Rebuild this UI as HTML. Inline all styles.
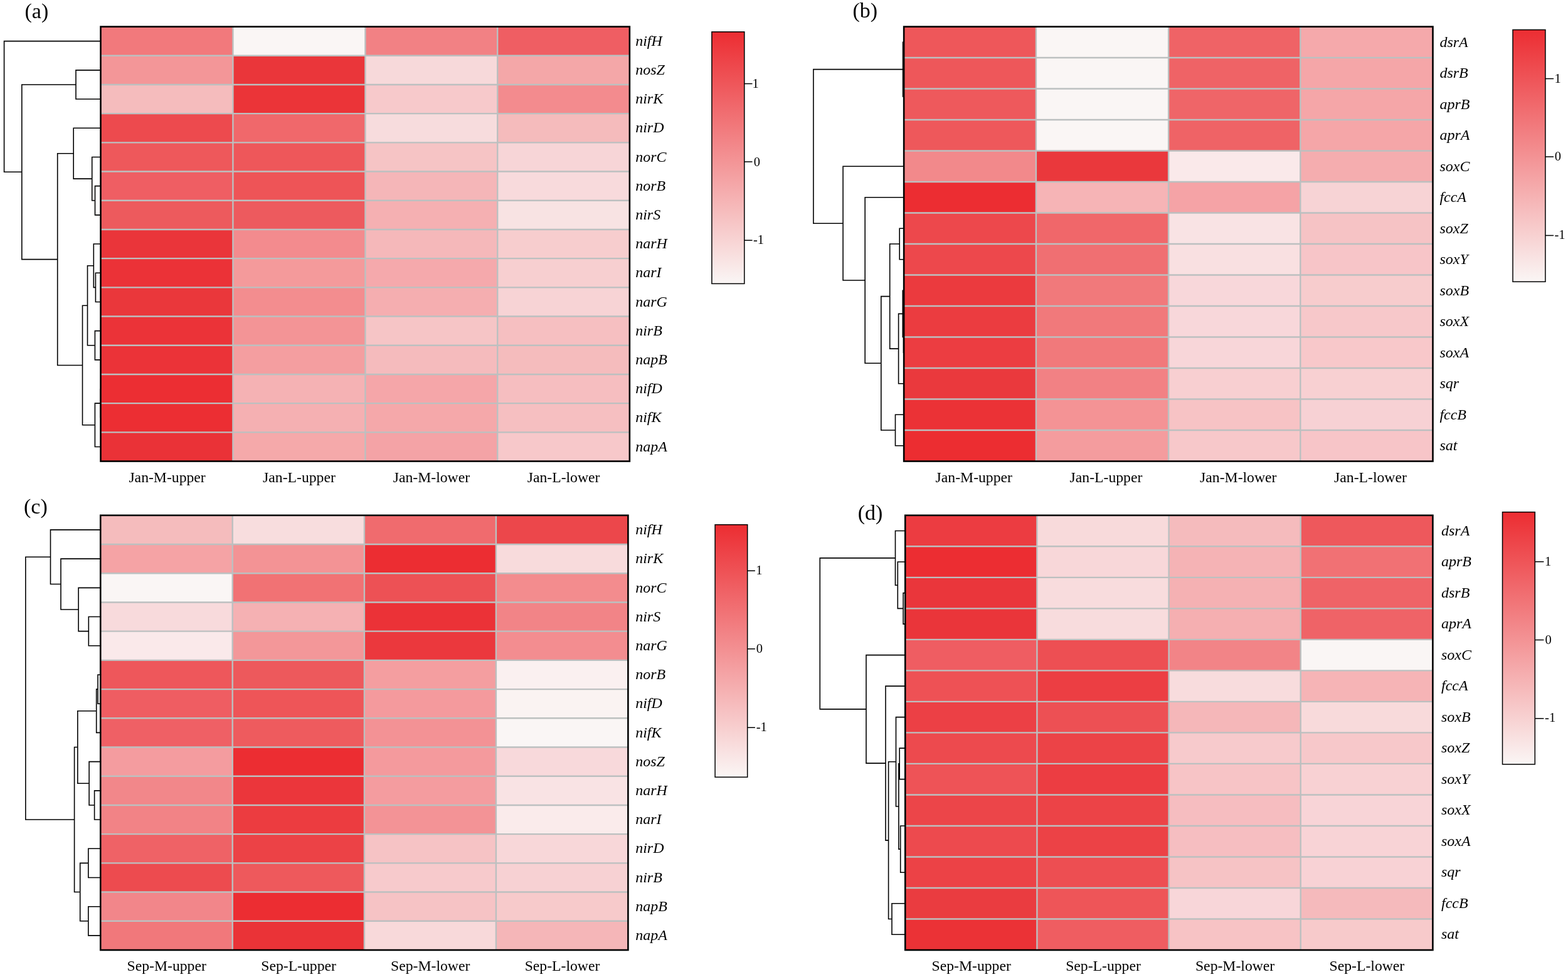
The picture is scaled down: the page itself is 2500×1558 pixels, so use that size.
<!DOCTYPE html>
<html lang="en">
<head>
<meta charset="utf-8">
<title>Heatmaps of nitrogen and sulfur cycling genes</title>
<style>
html,body{margin:0;padding:0;background:#fff;}
body{width:2500px;height:1558px;overflow:hidden;}
svg{display:block;}
text{font-family:"Liberation Serif","Times New Roman",serif;fill:#000;}
.rl text{font-size:24px;font-style:italic;}
.cl text{font-size:23.7px;text-anchor:middle;}
.tk text{font-size:20.5px;}
.tag{font-size:34px;}
</style>
</head>
<body>
<svg width="2500" height="1558" viewBox="0 0 2500 1558">
<defs>
<linearGradient id="cbg" x1="0" y1="0" x2="0" y2="1">
<stop offset="0" stop-color="rgb(236,45,50)"/>
<stop offset="1" stop-color="rgb(250,246,245)"/>
</linearGradient>
</defs>
<rect width="2500" height="1558" fill="#fff"/>
<g id="panel-a">
<g shape-rendering="crispEdges">
<rect x="160.5" y="42.55" width="210.9" height="46.2" fill="#F2797C"/>
<rect x="371.4" y="42.55" width="211" height="46.2" fill="#FAF6F5"/>
<rect x="582.4" y="42.55" width="210.8" height="46.2" fill="#F28184"/>
<rect x="793.2" y="42.55" width="210.65" height="46.2" fill="#EF5E63"/>
<rect x="160.5" y="88.75" width="210.9" height="46.2" fill="#F39698"/>
<rect x="371.4" y="88.75" width="211" height="46.2" fill="#EA363A"/>
<rect x="582.4" y="88.75" width="210.8" height="46.2" fill="#F7D9DA"/>
<rect x="793.2" y="88.75" width="210.65" height="46.2" fill="#F4A7A8"/>
<rect x="160.5" y="134.95" width="210.9" height="46.2" fill="#F5BCBD"/>
<rect x="371.4" y="134.95" width="211" height="46.2" fill="#EB3438"/>
<rect x="582.4" y="134.95" width="210.8" height="46.2" fill="#F7C9CB"/>
<rect x="793.2" y="134.95" width="210.65" height="46.2" fill="#F38B8E"/>
<rect x="160.5" y="181.15" width="210.9" height="46.2" fill="#ED4A4E"/>
<rect x="371.4" y="181.15" width="211" height="46.2" fill="#F0686B"/>
<rect x="582.4" y="181.15" width="210.8" height="46.2" fill="#F7DCDD"/>
<rect x="793.2" y="181.15" width="210.65" height="46.2" fill="#F5BBBC"/>
<rect x="160.5" y="227.35" width="210.9" height="46.2" fill="#EE585B"/>
<rect x="371.4" y="227.35" width="211" height="46.2" fill="#EE575A"/>
<rect x="582.4" y="227.35" width="210.8" height="46.2" fill="#F6C4C5"/>
<rect x="793.2" y="227.35" width="210.65" height="46.2" fill="#F7D5D7"/>
<rect x="160.5" y="273.55" width="210.9" height="46.2" fill="#EF5E63"/>
<rect x="371.4" y="273.55" width="211" height="46.2" fill="#EE5457"/>
<rect x="582.4" y="273.55" width="210.8" height="46.2" fill="#F5B6B8"/>
<rect x="793.2" y="273.55" width="210.65" height="46.2" fill="#F8DADC"/>
<rect x="160.5" y="319.75" width="210.9" height="46.2" fill="#ED5A5D"/>
<rect x="371.4" y="319.75" width="211" height="46.2" fill="#ED5A5E"/>
<rect x="582.4" y="319.75" width="210.8" height="46.2" fill="#F5B0B2"/>
<rect x="793.2" y="319.75" width="210.65" height="46.2" fill="#F8E3E3"/>
<rect x="160.5" y="365.95" width="210.9" height="46.2" fill="#EA353A"/>
<rect x="371.4" y="365.95" width="211" height="46.2" fill="#F38B8E"/>
<rect x="582.4" y="365.95" width="210.8" height="46.2" fill="#F5B8BA"/>
<rect x="793.2" y="365.95" width="210.65" height="46.2" fill="#F7CDCE"/>
<rect x="160.5" y="412.15" width="210.9" height="46.2" fill="#EB3237"/>
<rect x="371.4" y="412.15" width="211" height="46.2" fill="#F49A9B"/>
<rect x="582.4" y="412.15" width="210.8" height="46.2" fill="#F5A9AC"/>
<rect x="793.2" y="412.15" width="210.65" height="46.2" fill="#F7CFD0"/>
<rect x="160.5" y="458.35" width="210.9" height="46.2" fill="#EA373B"/>
<rect x="371.4" y="458.35" width="211" height="46.2" fill="#F38D8F"/>
<rect x="582.4" y="458.35" width="210.8" height="46.2" fill="#F5AEB0"/>
<rect x="793.2" y="458.35" width="210.65" height="46.2" fill="#F7D3D5"/>
<rect x="160.5" y="504.55" width="210.9" height="46.2" fill="#EB3338"/>
<rect x="371.4" y="504.55" width="211" height="46.2" fill="#F39496"/>
<rect x="582.4" y="504.55" width="210.8" height="46.2" fill="#F6C5C6"/>
<rect x="793.2" y="504.55" width="210.65" height="46.2" fill="#F6BFC1"/>
<rect x="160.5" y="550.75" width="210.9" height="46.2" fill="#EB3338"/>
<rect x="371.4" y="550.75" width="211" height="46.2" fill="#F49EA0"/>
<rect x="582.4" y="550.75" width="210.8" height="46.2" fill="#F5BBBD"/>
<rect x="793.2" y="550.75" width="210.65" height="46.2" fill="#F5BCBD"/>
<rect x="160.5" y="596.95" width="210.9" height="46.2" fill="#EC2E33"/>
<rect x="371.4" y="596.95" width="211" height="46.2" fill="#F5B2B4"/>
<rect x="582.4" y="596.95" width="210.8" height="46.2" fill="#F5A6A9"/>
<rect x="793.2" y="596.95" width="210.65" height="46.2" fill="#F6BEC0"/>
<rect x="160.5" y="643.15" width="210.9" height="46.2" fill="#EC2E33"/>
<rect x="371.4" y="643.15" width="211" height="46.2" fill="#F5B0B2"/>
<rect x="582.4" y="643.15" width="210.8" height="46.2" fill="#F5A8AA"/>
<rect x="793.2" y="643.15" width="210.65" height="46.2" fill="#F6BFC1"/>
<rect x="160.5" y="689.35" width="210.9" height="46.2" fill="#EA3237"/>
<rect x="371.4" y="689.35" width="211" height="46.2" fill="#F5A9AA"/>
<rect x="582.4" y="689.35" width="210.8" height="46.2" fill="#F4A3A6"/>
<rect x="793.2" y="689.35" width="210.65" height="46.2" fill="#F7C8CA"/>
</g>
<path d="M160.5 88.75H1003.85M160.5 134.95H1003.85M160.5 181.15H1003.85M160.5 227.35H1003.85M160.5 273.55H1003.85M160.5 319.75H1003.85M160.5 365.95H1003.85M160.5 412.15H1003.85M160.5 458.35H1003.85M160.5 504.55H1003.85M160.5 550.75H1003.85M160.5 596.95H1003.85M160.5 643.15H1003.85M160.5 689.35H1003.85M371.4 42.55V735.55M582.4 42.55V735.55M793.2 42.55V735.55" stroke="#bcc0c0" stroke-width="2.4" fill="none"/>
<path d="M160 111.85H121V158.05H160M160 296.65H151.5V342.85H160M160 250.45H146.7V319.75H151.5M160 204.25H117.2V285.1H146.7M160 435.25H152.4V481.45H160M160 389.05H149.3V458.35H152.4M160 527.65H151.4V573.85H160M149.3 423.7H139.5V550.75H151.4M160 620.05H160V666.25H160M160 643.15H151.4V712.45H160M139.5 487.23H131.5V677.8H151.4M117.2 244.68H91.7V582.51H131.5M121 134.95H34.8V413.59H91.7M160 65.65H6.6V274.27H34.8" stroke="#000" stroke-width="1.6" fill="none" stroke-linejoin="miter"/>
<rect x="160.5" y="42.55" width="843.35" height="693" fill="none" stroke="#000" stroke-width="2.6"/>
<g class="rl">
<text x="1013.2" y="72.85">nifH</text>
<text x="1013.2" y="119.05">nosZ</text>
<text x="1013.2" y="165.25">nirK</text>
<text x="1013.2" y="211.45">nirD</text>
<text x="1013.2" y="257.65">norC</text>
<text x="1013.2" y="303.85">norB</text>
<text x="1013.2" y="350.05">nirS</text>
<text x="1013.2" y="396.25">narH</text>
<text x="1013.2" y="442.45">narI</text>
<text x="1013.2" y="488.65">narG</text>
<text x="1013.2" y="534.85">nirB</text>
<text x="1013.2" y="581.05">napB</text>
<text x="1013.2" y="627.25">nifD</text>
<text x="1013.2" y="673.45">nifK</text>
<text x="1013.2" y="719.65">napA</text>
</g>
<g class="cl">
<text x="266.6" y="768.6">Jan-M-upper</text>
<text x="477" y="768.6">Jan-L-upper</text>
<text x="687.9" y="768.6">Jan-M-lower</text>
<text x="898.6" y="768.6">Jan-L-lower</text>
</g>
<text class="tag" x="39.5" y="28.9">(a)</text>
<rect x="1134.9" y="50.8" width="51.9" height="401.6" fill="url(#cbg)" stroke="#000" stroke-width="1.5"/>
<path d="M1186.8 133.4h12.7M1186.8 257.9h12.7M1186.8 383.3h12.7" stroke="#000" stroke-width="1.5" fill="none"/>
<g class="tk">
<text x="1199.6" y="139.8">1</text>
<text x="1201.7" y="265">0</text>
<text x="1201" y="389">-1</text>
</g>
</g>
<g id="panel-b">
<g shape-rendering="crispEdges">
<rect x="1441.15" y="42.55" width="210.75" height="49.5" fill="#EE575A"/>
<rect x="1651.9" y="42.55" width="211.2" height="49.5" fill="#FAF6F5"/>
<rect x="1863.1" y="42.55" width="210.2" height="49.5" fill="#EF6366"/>
<rect x="2073.3" y="42.55" width="211.2" height="49.5" fill="#F5A9AB"/>
<rect x="1441.15" y="92.05" width="210.75" height="49.5" fill="#EE575A"/>
<rect x="1651.9" y="92.05" width="211.2" height="49.5" fill="#FAF6F5"/>
<rect x="1863.1" y="92.05" width="210.2" height="49.5" fill="#EF6366"/>
<rect x="2073.3" y="92.05" width="211.2" height="49.5" fill="#F5A6A8"/>
<rect x="1441.15" y="141.55" width="210.75" height="49.5" fill="#EE595C"/>
<rect x="1651.9" y="141.55" width="211.2" height="49.5" fill="#FAF6F5"/>
<rect x="1863.1" y="141.55" width="210.2" height="49.5" fill="#EF6568"/>
<rect x="2073.3" y="141.55" width="211.2" height="49.5" fill="#F5A6A8"/>
<rect x="1441.15" y="191.05" width="210.75" height="49.5" fill="#EE585B"/>
<rect x="1651.9" y="191.05" width="211.2" height="49.5" fill="#FAF6F5"/>
<rect x="1863.1" y="191.05" width="210.2" height="49.5" fill="#EF6366"/>
<rect x="2073.3" y="191.05" width="211.2" height="49.5" fill="#F5A6A8"/>
<rect x="1441.15" y="240.55" width="210.75" height="49.5" fill="#F2898B"/>
<rect x="1651.9" y="240.55" width="211.2" height="49.5" fill="#EA383C"/>
<rect x="1863.1" y="240.55" width="210.2" height="49.5" fill="#FAE9EA"/>
<rect x="2073.3" y="240.55" width="211.2" height="49.5" fill="#F5ADAF"/>
<rect x="1441.15" y="290.05" width="210.75" height="49.5" fill="#EC2D32"/>
<rect x="1651.9" y="290.05" width="211.2" height="49.5" fill="#F6B4B6"/>
<rect x="1863.1" y="290.05" width="210.2" height="49.5" fill="#F5A3A6"/>
<rect x="2073.3" y="290.05" width="211.2" height="49.5" fill="#F7D3D5"/>
<rect x="1441.15" y="339.55" width="210.75" height="49.5" fill="#ED484C"/>
<rect x="1651.9" y="339.55" width="211.2" height="49.5" fill="#F0676A"/>
<rect x="1863.1" y="339.55" width="210.2" height="49.5" fill="#F9E3E4"/>
<rect x="2073.3" y="339.55" width="211.2" height="49.5" fill="#F6C3C5"/>
<rect x="1441.15" y="389.05" width="210.75" height="49.5" fill="#ED484C"/>
<rect x="1651.9" y="389.05" width="211.2" height="49.5" fill="#F06F72"/>
<rect x="1863.1" y="389.05" width="210.2" height="49.5" fill="#F9E0E1"/>
<rect x="2073.3" y="389.05" width="211.2" height="49.5" fill="#F7C5C8"/>
<rect x="1441.15" y="438.55" width="210.75" height="49.5" fill="#EB3A3E"/>
<rect x="1651.9" y="438.55" width="211.2" height="49.5" fill="#F1797B"/>
<rect x="1863.1" y="438.55" width="210.2" height="49.5" fill="#F8D7DA"/>
<rect x="2073.3" y="438.55" width="211.2" height="49.5" fill="#F7CCCD"/>
<rect x="1441.15" y="488.05" width="210.75" height="49.5" fill="#EB3C40"/>
<rect x="1651.9" y="488.05" width="211.2" height="49.5" fill="#F1797B"/>
<rect x="1863.1" y="488.05" width="210.2" height="49.5" fill="#F8D7DA"/>
<rect x="2073.3" y="488.05" width="211.2" height="49.5" fill="#F7C8CA"/>
<rect x="1441.15" y="537.55" width="210.75" height="49.5" fill="#EC3D41"/>
<rect x="1651.9" y="537.55" width="211.2" height="49.5" fill="#F1797B"/>
<rect x="1863.1" y="537.55" width="210.2" height="49.5" fill="#F8D6D9"/>
<rect x="2073.3" y="537.55" width="211.2" height="49.5" fill="#F8C8CA"/>
<rect x="1441.15" y="587.05" width="210.75" height="49.5" fill="#EA393D"/>
<rect x="1651.9" y="587.05" width="211.2" height="49.5" fill="#F28184"/>
<rect x="1863.1" y="587.05" width="210.2" height="49.5" fill="#F8CFD1"/>
<rect x="2073.3" y="587.05" width="211.2" height="49.5" fill="#F8D0D2"/>
<rect x="1441.15" y="636.55" width="210.75" height="49.5" fill="#EB3236"/>
<rect x="1651.9" y="636.55" width="211.2" height="49.5" fill="#F49395"/>
<rect x="1863.1" y="636.55" width="210.2" height="49.5" fill="#F7C3C5"/>
<rect x="2073.3" y="636.55" width="211.2" height="49.5" fill="#F7D1D4"/>
<rect x="1441.15" y="686.05" width="210.75" height="49.5" fill="#EC2D31"/>
<rect x="1651.9" y="686.05" width="211.2" height="49.5" fill="#F49C9E"/>
<rect x="1863.1" y="686.05" width="210.2" height="49.5" fill="#F7C8CA"/>
<rect x="2073.3" y="686.05" width="211.2" height="49.5" fill="#F7C5C8"/>
</g>
<path d="M1441.15 92.05H2284.5M1441.15 141.55H2284.5M1441.15 191.05H2284.5M1441.15 240.55H2284.5M1441.15 290.05H2284.5M1441.15 339.55H2284.5M1441.15 389.05H2284.5M1441.15 438.55H2284.5M1441.15 488.05H2284.5M1441.15 537.55H2284.5M1441.15 587.05H2284.5M1441.15 636.55H2284.5M1441.15 686.05H2284.5M1651.9 42.55V735.55M1863.1 42.55V735.55M2073.3 42.55V735.55" stroke="#bcc0c0" stroke-width="2.4" fill="none"/>
<path d="M1441 166.3H1441.2V215.8H1441M1441 116.8H1441.2V191.05H1441.2M1441 67.3H1439.6V153.93H1441.2M1441 364.3H1434.2V413.8H1441M1441 512.8H1440.5V562.3H1441M1441 463.3H1439.3V537.55H1440.5M1439.3 500.42H1432.6V611.8H1441M1434.2 389.05H1418.7V556.11H1432.6M1441 661.3H1427.5V710.8H1441M1418.7 472.58H1404.8V686.05H1427.5M1441 314.8H1379.2V579.32H1404.8M1441 265.3H1344.1V447.06H1379.2M1439.6 110.61H1296.9V356.18H1344.1" stroke="#000" stroke-width="1.6" fill="none" stroke-linejoin="miter"/>
<rect x="1441.15" y="42.55" width="843.35" height="693" fill="none" stroke="#000" stroke-width="2.6"/>
<g class="rl">
<text x="2295.4" y="74.7">dsrA</text>
<text x="2295.4" y="124.2">dsrB</text>
<text x="2295.4" y="173.7">aprB</text>
<text x="2295.4" y="223.2">aprA</text>
<text x="2295.4" y="272.7">soxC</text>
<text x="2295.4" y="322.2">fccA</text>
<text x="2295.4" y="371.7">soxZ</text>
<text x="2295.4" y="421.2">soxY</text>
<text x="2295.4" y="470.7">soxB</text>
<text x="2295.4" y="520.2">soxX</text>
<text x="2295.4" y="569.7">soxA</text>
<text x="2295.4" y="619.2">sqr</text>
<text x="2295.4" y="668.7">fccB</text>
<text x="2295.4" y="718.2">sat</text>
</g>
<g class="cl">
<text x="1552.8" y="768.6">Jan-M-upper</text>
<text x="1763.5" y="768.6">Jan-L-upper</text>
<text x="1974.3" y="768.6">Jan-M-lower</text>
<text x="2185" y="768.6">Jan-L-lower</text>
</g>
<text class="tag" x="1359.5" y="28.4">(b)</text>
<rect x="2412" y="47.5" width="51.9" height="401.8" fill="url(#cbg)" stroke="#000" stroke-width="1.5"/>
<path d="M2463.9 125.4h13.2M2463.9 249.9h13.2M2463.9 375.5h13.2" stroke="#000" stroke-width="1.5" fill="none"/>
<g class="tk">
<text x="2478.5" y="131.5">1</text>
<text x="2478.8" y="256.2">0</text>
<text x="2478.5" y="381">-1</text>
</g>
</g>
<g id="panel-c">
<g shape-rendering="crispEdges">
<rect x="160.25" y="821.8" width="210.45" height="46.21" fill="#F5BCBD"/>
<rect x="370.7" y="821.8" width="210.2" height="46.21" fill="#F8DDDE"/>
<rect x="580.9" y="821.8" width="210" height="46.21" fill="#F06B6E"/>
<rect x="790.9" y="821.8" width="210.5" height="46.21" fill="#EC474B"/>
<rect x="160.25" y="868.01" width="210.45" height="46.21" fill="#F5A3A5"/>
<rect x="370.7" y="868.01" width="210.2" height="46.21" fill="#F39395"/>
<rect x="580.9" y="868.01" width="210" height="46.21" fill="#EC2D32"/>
<rect x="790.9" y="868.01" width="210.5" height="46.21" fill="#F8DBDC"/>
<rect x="160.25" y="914.23" width="210.45" height="46.21" fill="#FAF6F5"/>
<rect x="370.7" y="914.23" width="210.2" height="46.21" fill="#F17274"/>
<rect x="580.9" y="914.23" width="210" height="46.21" fill="#ED5155"/>
<rect x="790.9" y="914.23" width="210.5" height="46.21" fill="#F38C8E"/>
<rect x="160.25" y="960.44" width="210.45" height="46.21" fill="#F8DADC"/>
<rect x="370.7" y="960.44" width="210.2" height="46.21" fill="#F5B1B3"/>
<rect x="580.9" y="960.44" width="210" height="46.21" fill="#EB3237"/>
<rect x="790.9" y="960.44" width="210.5" height="46.21" fill="#F28487"/>
<rect x="160.25" y="1006.65" width="210.45" height="46.21" fill="#FAE9EA"/>
<rect x="370.7" y="1006.65" width="210.2" height="46.21" fill="#F39799"/>
<rect x="580.9" y="1006.65" width="210" height="46.21" fill="#EB383D"/>
<rect x="790.9" y="1006.65" width="210.5" height="46.21" fill="#F38D90"/>
<rect x="160.25" y="1052.87" width="210.45" height="46.21" fill="#EE575B"/>
<rect x="370.7" y="1052.87" width="210.2" height="46.21" fill="#ED595C"/>
<rect x="580.9" y="1052.87" width="210" height="46.21" fill="#F49EA0"/>
<rect x="790.9" y="1052.87" width="210.5" height="46.21" fill="#FAF0F0"/>
<rect x="160.25" y="1099.08" width="210.45" height="46.21" fill="#EF5D62"/>
<rect x="370.7" y="1099.08" width="210.2" height="46.21" fill="#EE5558"/>
<rect x="580.9" y="1099.08" width="210" height="46.21" fill="#F49A9D"/>
<rect x="790.9" y="1099.08" width="210.5" height="46.21" fill="#FAF3F2"/>
<rect x="160.25" y="1145.29" width="210.45" height="46.21" fill="#EF6065"/>
<rect x="370.7" y="1145.29" width="210.2" height="46.21" fill="#EE5B5E"/>
<rect x="580.9" y="1145.29" width="210" height="46.21" fill="#F39295"/>
<rect x="790.9" y="1145.29" width="210.5" height="46.21" fill="#FAF6F5"/>
<rect x="160.25" y="1191.51" width="210.45" height="46.21" fill="#F49C9F"/>
<rect x="370.7" y="1191.51" width="210.2" height="46.21" fill="#EC2D32"/>
<rect x="580.9" y="1191.51" width="210" height="46.21" fill="#F49A9D"/>
<rect x="790.9" y="1191.51" width="210.5" height="46.21" fill="#F8D9DB"/>
<rect x="160.25" y="1237.72" width="210.45" height="46.21" fill="#F2878A"/>
<rect x="370.7" y="1237.72" width="210.2" height="46.21" fill="#EB363B"/>
<rect x="580.9" y="1237.72" width="210" height="46.21" fill="#F49C9F"/>
<rect x="790.9" y="1237.72" width="210.5" height="46.21" fill="#F9E3E4"/>
<rect x="160.25" y="1283.93" width="210.45" height="46.21" fill="#F28386"/>
<rect x="370.7" y="1283.93" width="210.2" height="46.21" fill="#EC3C40"/>
<rect x="580.9" y="1283.93" width="210" height="46.21" fill="#F39396"/>
<rect x="790.9" y="1283.93" width="210.5" height="46.21" fill="#FAEBEB"/>
<rect x="160.25" y="1330.15" width="210.45" height="46.21" fill="#EF6266"/>
<rect x="370.7" y="1330.15" width="210.2" height="46.21" fill="#EC4246"/>
<rect x="580.9" y="1330.15" width="210" height="46.21" fill="#F6C3C5"/>
<rect x="790.9" y="1330.15" width="210.5" height="46.21" fill="#F8D7D9"/>
<rect x="160.25" y="1376.36" width="210.45" height="46.21" fill="#ED4B4F"/>
<rect x="370.7" y="1376.36" width="210.2" height="46.21" fill="#EE595C"/>
<rect x="580.9" y="1376.36" width="210" height="46.21" fill="#F7CACC"/>
<rect x="790.9" y="1376.36" width="210.5" height="46.21" fill="#F7D1D3"/>
<rect x="160.25" y="1422.57" width="210.45" height="46.21" fill="#F2868A"/>
<rect x="370.7" y="1422.57" width="210.2" height="46.21" fill="#EC2D32"/>
<rect x="580.9" y="1422.57" width="210" height="46.21" fill="#F6C3C5"/>
<rect x="790.9" y="1422.57" width="210.5" height="46.21" fill="#F7CACB"/>
<rect x="160.25" y="1468.79" width="210.45" height="46.21" fill="#F1787B"/>
<rect x="370.7" y="1468.79" width="210.2" height="46.21" fill="#EA3337"/>
<rect x="580.9" y="1468.79" width="210" height="46.21" fill="#F8D9DA"/>
<rect x="790.9" y="1468.79" width="210.5" height="46.21" fill="#F5B6B8"/>
</g>
<path d="M160.25 868.01H1001.4M160.25 914.23H1001.4M160.25 960.44H1001.4M160.25 1006.65H1001.4M160.25 1052.87H1001.4M160.25 1099.08H1001.4M160.25 1145.29H1001.4M160.25 1191.51H1001.4M160.25 1237.72H1001.4M160.25 1283.93H1001.4M160.25 1330.15H1001.4M160.25 1376.36H1001.4M160.25 1422.57H1001.4M160.25 1468.79H1001.4M370.7 821.8V1515M580.9 821.8V1515M790.9 821.8V1515" stroke="#bcc0c0" stroke-width="2.4" fill="none"/>
<path d="M160 983.55H141.3V1029.76H160M160 937.33H125.1V1006.65H141.3M160 891.12H97V971.99H125.1M160 844.91H80.5V931.56H97M160 1075.97H156V1122.19H160M156 1099.08H153.7V1168.4H160M160 1260.83H150.6V1307.04H160M160 1214.61H142.1V1283.93H150.6M153.7 1133.74H123.8V1249.27H142.1M160 1353.25H140.8V1399.47H160M160 1445.68H140.8V1491.89H160M140.8 1376.36H127.7V1468.79H140.8M123.8 1191.51H118.6V1422.57H127.7M80.5 888.23H40.8V1307.04H118.6" stroke="#000" stroke-width="1.6" fill="none" stroke-linejoin="miter"/>
<rect x="160.25" y="821.8" width="841.15" height="693.2" fill="none" stroke="#000" stroke-width="2.6"/>
<g class="rl">
<text x="1013.2" y="852.11">nifH</text>
<text x="1013.2" y="898.32">nirK</text>
<text x="1013.2" y="944.53">norC</text>
<text x="1013.2" y="990.75">nirS</text>
<text x="1013.2" y="1036.96">narG</text>
<text x="1013.2" y="1083.17">norB</text>
<text x="1013.2" y="1129.39">nifD</text>
<text x="1013.2" y="1175.6">nifK</text>
<text x="1013.2" y="1221.81">nosZ</text>
<text x="1013.2" y="1268.03">narH</text>
<text x="1013.2" y="1314.24">narI</text>
<text x="1013.2" y="1360.45">nirD</text>
<text x="1013.2" y="1406.67">nirB</text>
<text x="1013.2" y="1452.88">napB</text>
<text x="1013.2" y="1499.09">napA</text>
</g>
<g class="cl">
<text x="265.7" y="1547.7">Sep-M-upper</text>
<text x="476.1" y="1547.7">Sep-L-upper</text>
<text x="686.2" y="1547.7">Sep-M-lower</text>
<text x="896.5" y="1547.7">Sep-L-lower</text>
</g>
<text class="tag" x="38" y="819.3">(c)</text>
<rect x="1140.1" y="836.7" width="51.6" height="402.6" fill="url(#cbg)" stroke="#000" stroke-width="1.5"/>
<path d="M1191.7 910.3h12.2M1191.7 1034.8h12.2M1191.7 1160.2h12.2" stroke="#000" stroke-width="1.5" fill="none"/>
<g class="tk">
<text x="1205.2" y="916">1</text>
<text x="1205.8" y="1040.7">0</text>
<text x="1205.7" y="1166">-1</text>
</g>
</g>
<g id="panel-d">
<g shape-rendering="crispEdges">
<rect x="1443.25" y="821.8" width="210.15" height="49.51" fill="#EC3C41"/>
<rect x="1653.4" y="821.8" width="210.2" height="49.51" fill="#F8DADB"/>
<rect x="1863.6" y="821.8" width="210.1" height="49.51" fill="#F5BBBD"/>
<rect x="2073.7" y="821.8" width="210.7" height="49.51" fill="#EE585C"/>
<rect x="1443.25" y="871.31" width="210.15" height="49.51" fill="#EC2D32"/>
<rect x="1653.4" y="871.31" width="210.2" height="49.51" fill="#F8D7D9"/>
<rect x="1863.6" y="871.31" width="210.1" height="49.51" fill="#F5B3B5"/>
<rect x="2073.7" y="871.31" width="210.7" height="49.51" fill="#F17174"/>
<rect x="1443.25" y="920.83" width="210.15" height="49.51" fill="#EA363B"/>
<rect x="1653.4" y="920.83" width="210.2" height="49.51" fill="#F8DCDD"/>
<rect x="1863.6" y="920.83" width="210.1" height="49.51" fill="#F5B1B3"/>
<rect x="2073.7" y="920.83" width="210.7" height="49.51" fill="#EF6367"/>
<rect x="1443.25" y="970.34" width="210.15" height="49.51" fill="#EA353A"/>
<rect x="1653.4" y="970.34" width="210.2" height="49.51" fill="#F8DCDD"/>
<rect x="1863.6" y="970.34" width="210.1" height="49.51" fill="#F5AFB1"/>
<rect x="2073.7" y="970.34" width="210.7" height="49.51" fill="#EF6367"/>
<rect x="1443.25" y="1019.86" width="210.15" height="49.51" fill="#EF5D62"/>
<rect x="1653.4" y="1019.86" width="210.2" height="49.51" fill="#ED4F53"/>
<rect x="1863.6" y="1019.86" width="210.1" height="49.51" fill="#F28487"/>
<rect x="2073.7" y="1019.86" width="210.7" height="49.51" fill="#FAF6F5"/>
<rect x="1443.25" y="1069.37" width="210.15" height="49.51" fill="#EE5155"/>
<rect x="1653.4" y="1069.37" width="210.2" height="49.51" fill="#EC3E43"/>
<rect x="1863.6" y="1069.37" width="210.1" height="49.51" fill="#F8DCDD"/>
<rect x="2073.7" y="1069.37" width="210.7" height="49.51" fill="#F6B4B6"/>
<rect x="1443.25" y="1118.89" width="210.15" height="49.51" fill="#EC4045"/>
<rect x="1653.4" y="1118.89" width="210.2" height="49.51" fill="#ED5054"/>
<rect x="1863.6" y="1118.89" width="210.1" height="49.51" fill="#F5B7B9"/>
<rect x="2073.7" y="1118.89" width="210.7" height="49.51" fill="#F8DADB"/>
<rect x="1443.25" y="1168.4" width="210.15" height="49.51" fill="#ED4A4E"/>
<rect x="1653.4" y="1168.4" width="210.2" height="49.51" fill="#EC4347"/>
<rect x="1863.6" y="1168.4" width="210.1" height="49.51" fill="#F7CACC"/>
<rect x="2073.7" y="1168.4" width="210.7" height="49.51" fill="#F7C8CA"/>
<rect x="1443.25" y="1217.91" width="210.15" height="49.51" fill="#EE5357"/>
<rect x="1653.4" y="1217.91" width="210.2" height="49.51" fill="#EC3D42"/>
<rect x="1863.6" y="1217.91" width="210.1" height="49.51" fill="#F7C4C6"/>
<rect x="2073.7" y="1217.91" width="210.7" height="49.51" fill="#F8D1D3"/>
<rect x="1443.25" y="1267.43" width="210.15" height="49.51" fill="#EC4549"/>
<rect x="1653.4" y="1267.43" width="210.2" height="49.51" fill="#EC4347"/>
<rect x="1863.6" y="1267.43" width="210.1" height="49.51" fill="#F6BDC0"/>
<rect x="2073.7" y="1267.43" width="210.7" height="49.51" fill="#F8D4D7"/>
<rect x="1443.25" y="1316.94" width="210.15" height="49.51" fill="#ED4A4E"/>
<rect x="1653.4" y="1316.94" width="210.2" height="49.51" fill="#EC4246"/>
<rect x="1863.6" y="1316.94" width="210.1" height="49.51" fill="#F6BEC1"/>
<rect x="2073.7" y="1316.94" width="210.7" height="49.51" fill="#F8D3D6"/>
<rect x="1443.25" y="1366.46" width="210.15" height="49.51" fill="#EC4246"/>
<rect x="1653.4" y="1366.46" width="210.2" height="49.51" fill="#ED4E52"/>
<rect x="1863.6" y="1366.46" width="210.1" height="49.51" fill="#F6C3C5"/>
<rect x="2073.7" y="1366.46" width="210.7" height="49.51" fill="#F8D2D5"/>
<rect x="1443.25" y="1415.97" width="210.15" height="49.51" fill="#EA3C40"/>
<rect x="1653.4" y="1415.97" width="210.2" height="49.51" fill="#EE5558"/>
<rect x="1863.6" y="1415.97" width="210.1" height="49.51" fill="#F8D6D9"/>
<rect x="2073.7" y="1415.97" width="210.7" height="49.51" fill="#F5BABC"/>
<rect x="1443.25" y="1465.49" width="210.15" height="49.51" fill="#EB3236"/>
<rect x="1653.4" y="1465.49" width="210.2" height="49.51" fill="#EF5D61"/>
<rect x="1863.6" y="1465.49" width="210.1" height="49.51" fill="#F7C3C5"/>
<rect x="2073.7" y="1465.49" width="210.7" height="49.51" fill="#F7CACB"/>
</g>
<path d="M1443.25 871.31H2284.4M1443.25 920.83H2284.4M1443.25 970.34H2284.4M1443.25 1019.86H2284.4M1443.25 1069.37H2284.4M1443.25 1118.89H2284.4M1443.25 1168.4H2284.4M1443.25 1217.91H2284.4M1443.25 1267.43H2284.4M1443.25 1316.94H2284.4M1443.25 1366.46H2284.4M1443.25 1415.97H2284.4M1443.25 1465.49H2284.4M1653.4 821.8V1515M1863.6 821.8V1515M2073.7 821.8V1515" stroke="#bcc0c0" stroke-width="2.4" fill="none"/>
<path d="M1443 945.59H1440.1V995.1H1443M1443 896.07H1431.3V970.34H1440.1M1443 846.56H1427.5V933.21H1431.3M1443 1193.16H1434.2V1242.67H1443M1443 1292.19H1443.3V1341.7H1443M1443.3 1316.94H1435.7V1391.21H1443M1434.2 1217.91H1432.9V1354.08H1435.7M1443 1143.64H1428.5V1286H1432.9M1443 1440.73H1422V1490.24H1443M1428.5 1214.82H1416.6V1465.49H1422M1443 1094.13H1412V1340.15H1416.6M1443 1044.61H1381V1217.14H1412M1427.5 889.88H1307.3V1130.88H1381" stroke="#000" stroke-width="1.6" fill="none" stroke-linejoin="miter"/>
<rect x="1443.25" y="821.8" width="841.15" height="693.2" fill="none" stroke="#000" stroke-width="2.6"/>
<g class="rl">
<text x="2298" y="853.76">dsrA</text>
<text x="2298" y="903.27">aprB</text>
<text x="2298" y="952.79">dsrB</text>
<text x="2298" y="1002.3">aprA</text>
<text x="2298" y="1051.81">soxC</text>
<text x="2298" y="1101.33">fccA</text>
<text x="2298" y="1150.84">soxB</text>
<text x="2298" y="1200.36">soxZ</text>
<text x="2298" y="1249.87">soxY</text>
<text x="2298" y="1299.39">soxX</text>
<text x="2298" y="1348.9">soxA</text>
<text x="2298" y="1398.41">sqr</text>
<text x="2298" y="1447.93">fccB</text>
<text x="2298" y="1497.44">sat</text>
</g>
<g class="cl">
<text x="1548.7" y="1547.7">Sep-M-upper</text>
<text x="1759" y="1547.7">Sep-L-upper</text>
<text x="1969.1" y="1547.7">Sep-M-lower</text>
<text x="2179.4" y="1547.7">Sep-L-lower</text>
</g>
<text class="tag" x="1367.7" y="829.1">(d)</text>
<rect x="2395.5" y="816.6" width="51.8" height="402.2" fill="url(#cbg)" stroke="#000" stroke-width="1.5"/>
<path d="M2447.3 895.8h14.1M2447.3 1020.4h14.1M2447.3 1145.7h14.1" stroke="#000" stroke-width="1.5" fill="none"/>
<g class="tk">
<text x="2463" y="902.2">1</text>
<text x="2463.5" y="1026.6">0</text>
<text x="2463.1" y="1150.8">-1</text>
</g>
</g>
</svg>
</body>
</html>
